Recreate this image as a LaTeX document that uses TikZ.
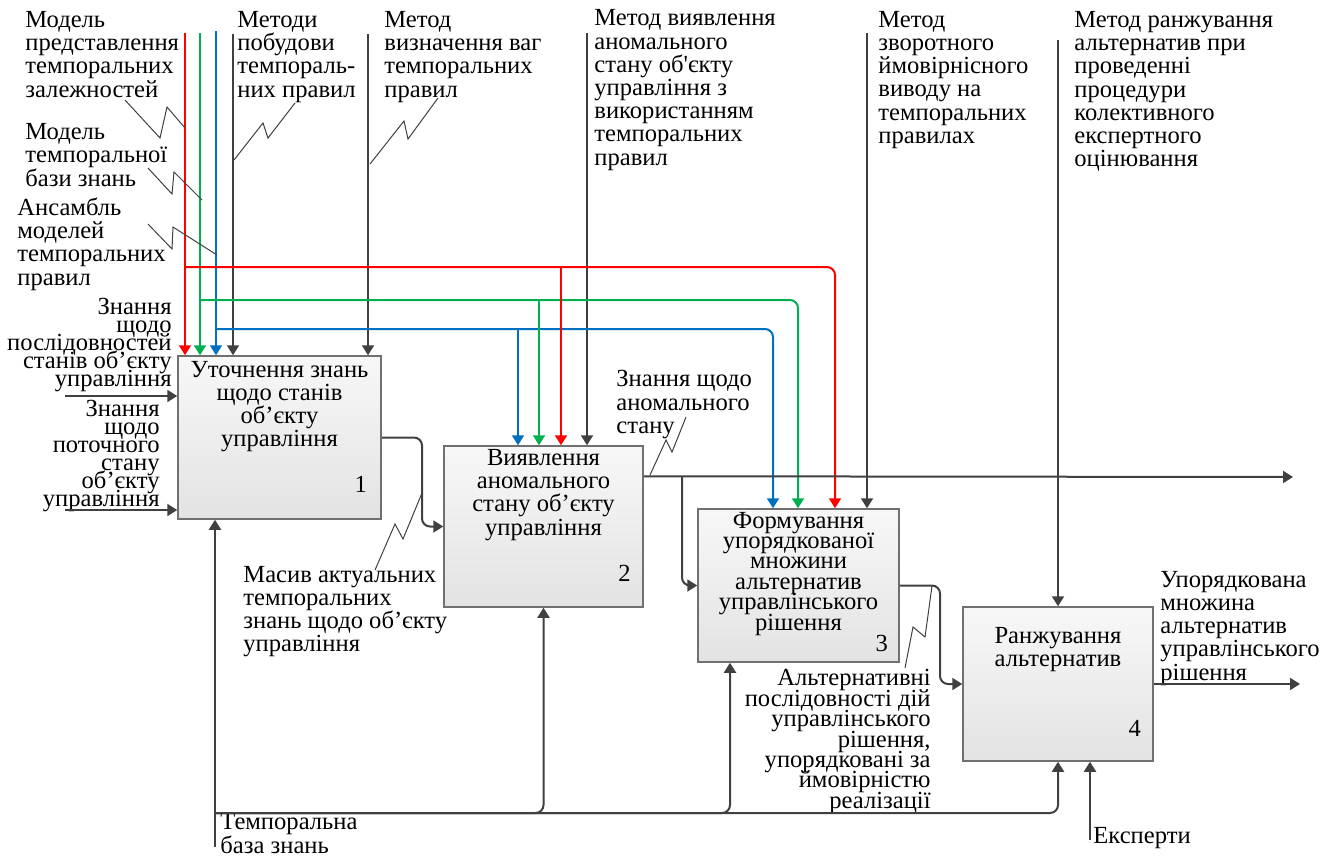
\documentclass[tikz,border=0pt]{standalone}
\usepackage{fontspec}
\setmainfont{Liberation Serif}[Ligatures=TeXOff]
\usetikzlibrary{arrows.meta,calc}
\setlength{\lineskiplimit}{-20pt}

\definecolor{cred}{RGB}{255,0,0}
\definecolor{cgreen}{RGB}{0,176,80}
\definecolor{cblue}{RGB}{0,112,192}
\definecolor{lgray}{RGB}{64,64,64}

\tikzset{
  fbox/.style={draw=lgray!75, line width=0.75pt, top color=black!3, bottom color=black!11, inner sep=0pt},
  btext/.style={anchor=base, align=center, inner sep=0pt},
  lbl/.style={align=left, inner sep=0pt},
  rlbl/.style={align=right, inner sep=0pt},
  tight/.style={font=\fontsize{12.3}{9}\selectfont},
  mid/.style={font=\fontsize{12.3}{10.2}\selectfont},
  arr/.style={line width=1pt, draw=lgray, -{Triangle[length=5pt,width=6pt]}},
  bus/.style={line width=1pt, rounded corners=4pt},
  zig/.style={line width=0.5pt, draw=lgray}
}

\begin{document}
\begin{tikzpicture}[x=0.5pt,y=-0.5pt,font=\fontsize{12.3}{11.6}\selectfont]
\useasboundingbox (0,0) rectangle (1336,857);

\node[fbox, minimum width=101.5pt, minimum height=81.5pt] (b1) at (279.5,437.5) {};
\node[fbox, minimum width=99.5pt, minimum height=80.5pt] (b2) at (543.5,526.5) {};
\node[fbox, minimum width=100.5pt, minimum height=76.5pt] (b3) at (798.5,585.5) {};
\node[fbox, minimum width=95pt, minimum height=77pt] (b4) at (1058,684) {};

\node[btext] (t1) at (279.5,446.7) {Уточнення знань\\щодо станів\\об’єкту\\управління};
\node[btext] (t2) at (543.5,535) {Виявлення\\аномального\\стану об’єкту\\управління};
\node[btext, mid] (t3) at (798.5,630) {Формування\\упорядкованої\\множини\\альтернатив\\управлінського\\рішення};
\node[btext] (t4) at (1058,666.7) {Ранжування\\альтернатив};
\node[anchor=base east] (n1) at (374,492.7) {1};
\node[anchor=base east] (n2) at (637.7,581.7) {2};
\node[anchor=base east] (n3) at (895,651.7) {3};
\node[anchor=base east] (n4) at (1148,736) {4};

\node[lbl, anchor=base west] (l1) at (25,97) {Модель\\представлення\\темпоральних\\залежностей};
\node[lbl, anchor=base west] (l2) at (25,186) {Модель\\темпоральної\\бази знань};
\node[lbl, anchor=base west] (l3) at (17,285) {Ансамбль\\моделей\\темпоральних\\правил};
\node[lbl, anchor=base west] (l4) at (237,97) {Методи\\побудови\\темпораль-\\них правил};
\node[lbl, anchor=base west] (l5) at (384,97) {Метод\\визначення ваг\\темпоральних\\правил};
\node[lbl, anchor=base west] (l6) at (594,165) {Метод виявлення\\аномального\\стану об'єкту\\управління з\\використанням\\темпоральних\\правил};
\node[lbl, anchor=base west] (l7) at (878,143.3) {Метод\\зворотного\\ймовірнісного\\виводу на\\темпоральних\\правилах};
\node[lbl, anchor=base west] (l8) at (1074,166.7) {Метод ранжування\\альтернатив при\\проведенні\\процедури\\колективного\\експертного\\оцінювання};
\node[rlbl, tight, anchor=base east] (l9) at (172,386.7) {Знання\\щодо\\послідовностей\\станів об’єкту\\управління};
\node[rlbl, tight, anchor=base east] (l10) at (160,506.7) {Знання\\щодо\\поточного\\стану\\об’єкту\\управління};
\node[lbl, anchor=base west] (l11) at (243,651.7) {Масив актуальних\\темпоральних\\знань щодо об’єкту\\управління};
\node[lbl, anchor=base west] (l12) at (616,433.3) {Знання щодо\\аномального\\стану};
\node[rlbl, mid, anchor=base east] (l13) at (931,808.3) {Альтернативні\\послідовності дій\\управлінського\\рішення,\\упорядковані за\\ймовірністю\\реалізації};
\node[lbl, anchor=base west] (l14) at (1160,680) {Упорядкована\\множина\\альтернатив\\управлінського\\рішення};
\node[lbl, anchor=base west] (l15) at (220,853) {Темпоральна\\база знань};
\node[lbl, anchor=base west] (l16) at (1093,843.3) {Експерти};

\coordinate (c1) at (185,33);
\coordinate (c2) at (200,33);
\coordinate (c3) at (216,31);
\coordinate (c4) at (233,34);
\coordinate (c5) at (368,34);
\coordinate (c6) at (587,33);
\coordinate (c7) at (867,33);
\coordinate (c8) at (1058,40);
\coordinate (i1) at (65,396);
\coordinate (i2) at (65,510);
\coordinate (m1) at (215,847);
\coordinate (m2) at (1090,840);
\coordinate (o2) at (1293,477);
\coordinate (o4) at (1300,684);

\draw[arr] (c4) -- (c4 |- b1.north);
\draw[arr] (c5) -- (c5 |- b1.north);
\draw[arr] (c6) -- (c6 |- b2.north);
\draw[arr] (c7) -- (c7 |- b3.north);
\draw[arr] (c8) -- (c8 |- b4.north);

\draw[arr, bus, draw=cblue] (c3 |- 0,329) -| (773,0 |- b3.north);
\draw[arr, draw=cblue] (518,329) -- (518,0 |- b2.north);
\draw[arr, draw=cblue] (c3) -- (c3 |- b1.north);
\draw[arr, bus, draw=cgreen] (c2 |- 0,300) -| (798,0 |- b3.north);
\draw[arr, draw=cgreen] (539,300) -- (539,0 |- b2.north);
\draw[arr, draw=cgreen] (c2) -- (c2 |- b1.north);
\draw[arr, bus, draw=cred] (c1 |- 0,267) -| (835,0 |- b3.north);
\draw[arr, draw=cred] (561,267) -- (561,0 |- b2.north);
\draw[arr, draw=cred] (c1) -- (c1 |- b1.north);

\draw[arr] (i1) -- (i1 -| b1.west);
\draw[arr] (i2) -- (i2 -| b1.west);

\draw[arr, bus] (b1.east) -| (422,0 |- b2.west) -- (b2.west);
\draw[arr] ($(b2.north east)+(0,31)$) -- (o2);
\draw[arr, bus] (682,477) |- (b3.west);
\draw[arr, bus] (b3.east) -| (940,0 |- b4.west) -- (b4.west);
\draw[arr] (b4.east) -- (o4);

\draw[arr] (m1) -- (m1 |- b1.south);
\draw[arr, bus] (m1 |- 0,813) -| (b2.south);
\draw[arr, bus] (m1 |- 0,813) -| (730,0 |- b3.south);
\draw[arr, bus] (m1 |- 0,813) -| (b4.south);
\draw[arr] (m2) -- (m2 |- b4.south);

\draw[zig] (125,100) -- (160,138) -- (167,107) -- (185,128);
\draw[zig] (148,168) -- (172,194) -- (174,172) -- (202,200);
\draw[zig] (148,224) -- (172,249) -- (173,227) -- (217,255);
\draw[zig] (295,103) -- (268,138) -- (263,123) -- (234,160);
\draw[zig] (438,98) -- (408,139) -- (404,121) -- (370,164);
\draw[zig] (375,570) -- (395,524) -- (403,539) -- (422,493);
\draw[zig] (686,417) -- (672,452) -- (666,440) -- (650,475);
\draw[zig] (905,668) -- (913,627) -- (925,637) -- (932,586);
\end{tikzpicture}
\end{document}
